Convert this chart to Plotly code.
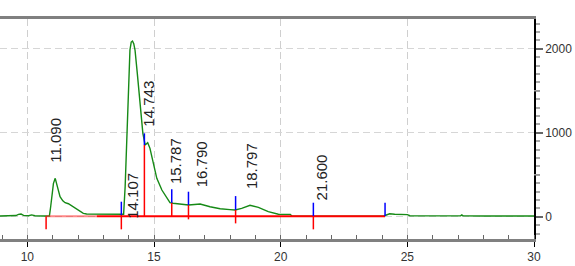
import plotly.graph_objects as go

# ---- chromatogram signal ----
time_min = [8.92, 9.3, 9.55, 9.65, 9.75, 9.85, 10.05, 10.17, 10.3, 10.6, 10.87, 10.92, 10.96, 11.03, 11.1,
            11.18, 11.29, 11.40, 11.49, 11.62, 11.75, 11.92, 12.08, 12.21, 12.34, 12.8, 13.3, 13.66,
            13.8, 13.86, 13.92, 13.99, 14.05, 14.1, 14.15, 14.2, 14.25, 14.34, 14.45, 14.56, 14.65,
            14.75, 14.84, 14.97, 15.11, 15.31, 15.5, 15.63, 15.75, 15.96, 16.36, 16.6, 16.82, 17.21,
            17.61, 18.0, 18.2, 18.46, 18.79, 19.12, 19.51, 19.91, 20.38, 20.45, 22.0, 24.05, 24.12,
            24.3, 24.5, 25.0, 25.1, 26.0, 27.1, 27.15, 27.2, 28.0, 30.0]
signal = [8, 10, 14, 28, 32, 16, 12, 22, 12, 8, 8, 119, 238, 397, 457,
          377, 238, 190, 167, 155, 131, 100, 60, 40, 33, 30, 29, 28,
          30, 357, 913, 1627, 1985, 2080, 2092, 2060, 1985, 1707, 1310, 993, 854,
          881, 814, 636, 457, 318, 219, 167, 160, 151, 139, 145, 151, 119,
          95, 85, 80, 100, 136, 112, 60, 29, 28, 5, 5, 5, 15,
          35, 30, 25, 12, 10, 10, 22, 10, 8, 8]

# ---- integration marks ----
bound_x = [10.74, 13.71, 14.62, 15.70, 16.36, 18.22, 21.29, 24.12]
blue_top = [None, 179, 993, 326, 298, 246, 167, 167]
blue_bot = [None, 20, 854, 167, 139, 80, 8, 8]
red_bot = [-150, -150, 8, 8, -31, -79, -150, None]
baseline_x = [10.74, 12.74, 24.12]
baseline_y = [5, 5, 5]

# ---- peak labels ----
peak_labels = ["11.090", "14.107", "14.743", "15.787", "16.790", "18.797", "21.600"]
label_x = [11.13, 14.12, 14.80, 15.83, 16.85, 18.83, 21.62]
label_y = [636, -39, 1060, 377, 338, 318, 179]

x_tickvals = [10, 15, 20, 25, 30]
y_tickvals = [0, 1000, 2000]

fig = go.Figure()

fig.add_trace(go.Scatter(x=time_min, y=signal, mode="lines",
                         line=dict(color="#168a16", width=1.4), hoverinfo="skip"))

# baseline (light then solid red)
fig.add_trace(go.Scatter(x=baseline_x[:2], y=baseline_y[:2], mode="lines",
                         line=dict(color="rgba(255,40,40,0.55)", width=2), hoverinfo="skip"))
fig.add_trace(go.Scatter(x=baseline_x[1:], y=baseline_y[1:], mode="lines",
                         line=dict(color="#ff0000", width=2), hoverinfo="skip"))

bx, by, rx, ry = [], [], [], []
for i, x in enumerate(bound_x):
    if blue_top[i] is not None:
        bx += [x, x, None]
        by += [blue_top[i], blue_bot[i], None]
    if red_bot[i] is not None:
        top = blue_bot[i] if blue_bot[i] is not None else baseline_y[0]
        rx += [x, x, None]
        ry += [top, red_bot[i], None]
fig.add_trace(go.Scatter(x=rx, y=ry, mode="lines", line=dict(color="#ff0000", width=1.5),
                         hoverinfo="skip"))
fig.add_trace(go.Scatter(x=bx, y=by, mode="lines", line=dict(color="#0000ff", width=1.5),
                         hoverinfo="skip"))

for t, x, y in zip(peak_labels, label_x, label_y):
    fig.add_annotation(x=x, y=y, text=t, textangle=-90, showarrow=False,
                       xanchor="center", yanchor="bottom", borderpad=0,
                       font=dict(family="Liberation Sans, Arial", size=15, color="#222222"))

# medium ticks at 500 / 1500 on right axis
for v in [500, 1500]:
    fig.add_shape(type="line", xref="paper", yref="y", x0=1, x1=1 + 6 / 534, y0=v, y1=v,
                  line=dict(color="#999999", width=1.5))

fig.update_layout(
    width=575, height=266,
    margin=dict(l=0, r=41, t=19, b=27),
    paper_bgcolor="white", plot_bgcolor="white",
    showlegend=False,
    font=dict(family="Liberation Sans, Arial", size=12, color="#333333"),
)
fig.update_xaxes(range=[8.92, 30], tickvals=x_tickvals, showgrid=True,
                 gridcolor="#cfcfcf", griddash="7px,4px", gridwidth=1,
                 showline=True, linecolor="#808080", linewidth=2.5, mirror=True,
                 ticks="outside", ticklen=5, tickcolor="#000000", tickwidth=1,
                 minor=dict(dtick=1, ticks="inside", ticklen=4, tickcolor="#666666", showgrid=False),
                 zeroline=False, tickfont=dict(size=12, color="#333333"))
fig.update_yaxes(range=[-265, 2354], side="right", tickvals=y_tickvals, showgrid=True,
                 gridcolor="#d6d6d6", griddash="7px,4px", gridwidth=1,
                 showline=True, linecolor="#000000", linewidth=1.5, mirror=False,
                 ticks="outside", ticklen=7, tickcolor="#666666", tickwidth=2,
                 minor=dict(dtick=100, tick0=0, ticks="outside", ticklen=4, tickcolor="#aaaaaa",
                            tickwidth=1.5, showgrid=False),
                 zeroline=False, tickfont=dict(size=12, color="#333333"))

fig.write_html("out.html")
